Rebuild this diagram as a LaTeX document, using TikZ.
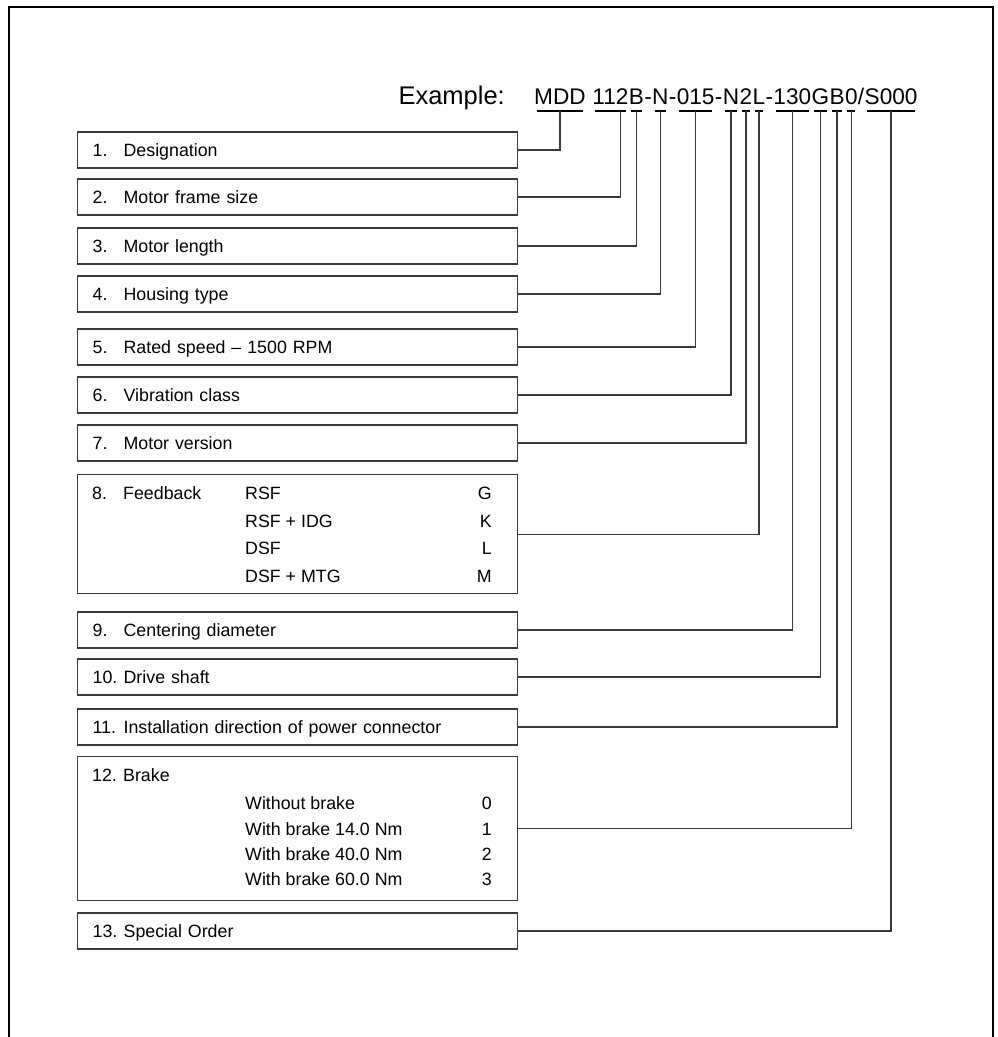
\documentclass[tikz,border=0pt]{standalone}
\usepackage{fontspec}
\setmainfont{Liberation Sans}
\usetikzlibrary{calc}
\definecolor{linegray}{HTML}{3A3A3A}
\newcommand{\numlab}[2]{\makebox[31pt][l]{#1}#2}
\begin{document}
\begin{tikzpicture}[x=1pt,y=-1pt,
  frame/.style={line width=2.5pt, black},
  box/.style={draw=linegray, line width=1.3pt, anchor=west, minimum height=36pt,
    text width=410pt, align=left, inner xsep=15pt, inner ysep=0pt,
    text height=12.7pt, text depth=0pt, font=\fontsize{17.8}{20}\selectfont},
  bigbox/.style={draw=linegray, line width=1.3pt, anchor=north west,
    minimum width=440pt, inner sep=0pt},
  txt/.style={inner sep=0pt, anchor=base west, font=\fontsize{17.8}{20}\selectfont},
  txtr/.style={inner sep=0pt, anchor=base east, font=\fontsize{17.8}{20}\selectfont},
  code/.style={inner sep=0pt, anchor=base west, font=\fontsize{22.6}{23}\selectfont},
  uline/.style={line width=2.2pt, black},
  conn/.style={line width=1.3pt, linegray},
]
\useasboundingbox (0,0) rectangle (998,1037);
\draw[frame] (9,1040) -- (9,7) -- (993,7) -- (993,1040);

% header
\node[code, anchor=base east, font=\fontsize{25.5}{25.5}\selectfont] (ex) at (505,104) {Example:};
\node[code] (gMDD) at (534,104) {MDD};
\node[code] (g112) at ([xshift=6.3pt]gMDD.base east) {112};
\node[code] (gB) at (g112.base east) {B};
\node[code] (h1) at (gB.base east) {-};
\node[code] (gN) at (h1.base east) {N};
\node[code] (h2) at (gN.base east) {-};
\node[code] (g015) at (h2.base east) {015};
\node[code] (h3) at (g015.base east) {-};
\node[code] (gN2) at (h3.base east) {N};
\node[code] (g2) at (gN2.base east) {2};
\node[code] (gL) at (g2.base east) {L};
\node[code] (h4) at (gL.base east) {-};
\node[code] (g130) at (h4.base east) {130};
\node[code] (gG) at (g130.base east) {G};
\node[code] (gB2) at (gG.base east) {B};
\node[code] (g0) at (gB2.base east) {0};
\node[code] (sl) at (g0.base east) {/};
\node[code] (gS) at (sl.base east) {S000};

\foreach \g in {gMDD,g112,gB,gN,g015,gN2,g2,gL,g130,gG,gB2,g0,gS}{
  \draw[uline] ($(\g.base west)+(2.5,7)$) -- ($(\g.base east)+(-2.5,7)$);
}
\coordinate (u1) at ($(gMDD.base)+(0,7)$);
\coordinate (u2) at ($(g112.base west)!0.78!(g112.base east)+(0,7)$);
\coordinate (u3) at ($(gB.base)+(0,7)$);
\coordinate (u4) at ($(gN.base)+(0,7)$);
\coordinate (u5) at ($(g015.base)+(0,7)$);
\coordinate (u6) at ($(gN2.base)+(0,7)$);
\coordinate (u7) at ($(g2.base)+(0,7)$);
\coordinate (u8) at ($(gL.base)+(0,7)$);
\coordinate (u9) at ($(g130.base)+(0,7)$);
\coordinate (u10) at ($(gG.base)+(0,7)$);
\coordinate (u11) at ($(gB2.base)+(0,7)$);
\coordinate (u12) at ($(g0.base)+(0,7)$);
\coordinate (u13) at ($(gS.base)+(0,7)$);

% boxes
\node[box] (b1) at (77,150) {\numlab{1.}{Designation}};
\node[box] (b2) at (77,197) {\numlab{2.}{Motor frame size}};
\node[box] (b3) at (77,246) {\numlab{3.}{Motor length}};
\node[box] (b4) at (77,294) {\numlab{4.}{Housing type}};
\node[box] (b5) at (77,347) {\numlab{5.}{Rated speed -- 1500 RPM}};
\node[box] (b6) at (77,395) {\numlab{6.}{Vibration class}};
\node[box] (b7) at (77,443) {\numlab{7.}{Motor version}};

\node[bigbox, minimum height=119pt] (b8) at (77,474) {};
\node[txt] (t8a) at (92,499) {8.};
\node[txt] (t8b) at (123,499) {Feedback};
\node[txt] (t8c) at (245,499) {RSF};
\node[txtr] (t8d) at (492,499) {G};
\node[txt] (t8e) at (245,527) {RSF + IDG};
\node[txtr] (t8f) at (492,527) {K};
\node[txt] (t8g) at (245,554) {DSF};
\node[txtr] (t8h) at (492,554) {L};
\node[txt] (t8i) at (245,582) {DSF + MTG};
\node[txtr] (t8j) at (492,582) {M};

\node[box] (b9) at (77,630) {\numlab{9.}{Centering diameter}};
\node[box] (b10) at (77,677) {\numlab{10.}{Drive shaft}};
\node[box] (b11) at (77,727) {\numlab{11.}{Installation direction of power connector}};

\node[bigbox, minimum height=144pt] (b12) at (77,756) {};
\node[txt] (t12a) at (92,781) {\numlab{12.}{Brake}};
\node[txt] (t12b) at (245,809) {Without brake};
\node[txtr] (t12c) at (492,809) {0};
\node[txt] (t12d) at (245,835) {With brake 14.0 Nm};
\node[txtr] (t12e) at (492,835) {1};
\node[txt] (t12f) at (245,860) {With brake 40.0 Nm};
\node[txtr] (t12g) at (492,860) {2};
\node[txt] (t12h) at (245,885) {With brake 60.0 Nm};
\node[txtr] (t12i) at (492,885) {3};

\node[box] (b13) at (77,931) {\numlab{13.}{Special Order}};

% connectors
\draw[conn] (b1.east) -| (u1);
\draw[conn] (b2.east) -| (u2);
\draw[conn] (b3.east) -| (u3);
\draw[conn] (b4.east) -| (u4);
\draw[conn] (b5.east) -| (u5);
\draw[conn] (b6.east) -| (u6);
\draw[conn] (b7.east) -| (u7);
\draw[conn] (b8.east) -| (u8);
\draw[conn] (b9.east) -| (u9);
\draw[conn] (b10.east) -| (u10);
\draw[conn] (b11.east) -| (u11);
\draw[conn] (b12.east) -| (u12);
\draw[conn] (b13.east) -| (u13);
\end{tikzpicture}
\end{document}
